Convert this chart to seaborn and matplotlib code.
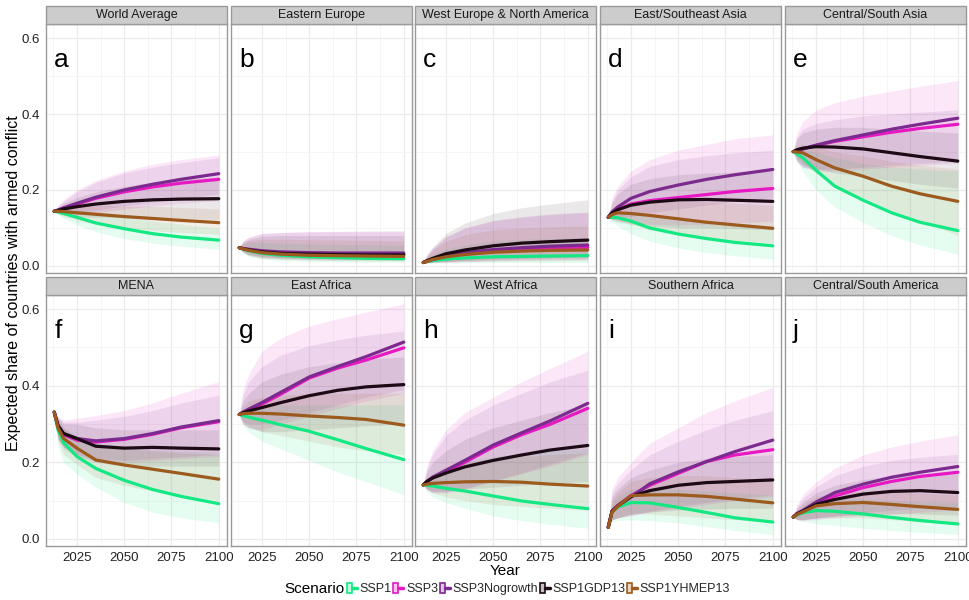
import matplotlib
matplotlib.use("Agg")
import matplotlib.pyplot as plt
import matplotlib.colors as mcolors
from matplotlib.patches import Rectangle, Patch
from matplotlib.lines import Line2D
from matplotlib.legend_handler import HandlerTuple
import numpy as np
import pandas as pd
import seaborn as sns

# ---------------- data ----------------
years = [2013, 2015, 2018, 2025, 2035, 2050, 2065, 2080, 2100]
scenarios = ["SSP1", "SSP3", "SSP3Nogrowth", "SSP1GDP13", "SSP1YHMEP13"]
colors = ["#14E882", "#E619C3", "#7B2A8E", "#1C0A14", "#9C5A1E"]
regions = ["World Average", "Eastern Europe", "West Europe & North America",
           "East/Southeast Asia", "Central/South Asia", "MENA", "East Africa",
           "West Africa", "Southern Africa", "Central/South America"]
letters = ["a", "b", "c", "d", "e", "f", "g", "h", "i", "j"]
x_ticks = [2025, 2050, 2075, 2100]
y_ticks = [0.0, 0.2, 0.4, 0.6]

# order of rows in each block: SSP1, SSP3, SSP3Nogrowth, SSP1GDP13, SSP1YHMEP13
world_mean = [[0.144,0.142,0.138,0.128,0.113,0.098,0.085,0.076,0.068],
              [0.144,0.147,0.152,0.163,0.178,0.195,0.208,0.218,0.228],
              [0.144,0.147,0.153,0.165,0.181,0.200,0.215,0.228,0.243],
              [0.144,0.146,0.150,0.156,0.163,0.170,0.174,0.176,0.177],
              [0.144,0.144,0.143,0.140,0.136,0.130,0.125,0.120,0.114]]
world_lo = [[0.144,0.135,0.125,0.108,0.090,0.072,0.060,0.052,0.044],
            [0.144,0.140,0.135,0.135,0.140,0.150,0.158,0.165,0.172],
            [0.144,0.141,0.140,0.140,0.147,0.158,0.168,0.176,0.190],
            [0.144,0.139,0.135,0.130,0.128,0.127,0.127,0.125,0.122],
            [0.144,0.137,0.130,0.120,0.110,0.100,0.093,0.088,0.083]]
world_hi = [[0.144,0.147,0.150,0.148,0.140,0.128,0.118,0.110,0.100],
            [0.144,0.160,0.175,0.200,0.225,0.250,0.268,0.280,0.292],
            [0.144,0.158,0.170,0.195,0.220,0.245,0.260,0.272,0.285],
            [0.144,0.155,0.165,0.180,0.195,0.210,0.220,0.228,0.235],
            [0.144,0.150,0.155,0.160,0.160,0.158,0.157,0.154,0.150]]

eeur_mean = [[0.048,0.045,0.040,0.033,0.028,0.024,0.022,0.020,0.019],
             [0.048,0.046,0.043,0.038,0.035,0.033,0.032,0.031,0.031],
             [0.048,0.046,0.044,0.040,0.037,0.035,0.034,0.034,0.034],
             [0.048,0.045,0.042,0.037,0.033,0.031,0.030,0.029,0.029],
             [0.048,0.045,0.041,0.035,0.031,0.028,0.027,0.026,0.025]]
eeur_lo = [[0.048,0.035,0.025,0.018,0.014,0.012,0.011,0.010,0.010],
           [0.048,0.037,0.030,0.024,0.021,0.019,0.018,0.018,0.018],
           [0.048,0.038,0.031,0.025,0.022,0.020,0.019,0.019,0.019],
           [0.048,0.036,0.028,0.022,0.019,0.017,0.016,0.016,0.016],
           [0.048,0.036,0.027,0.020,0.017,0.015,0.014,0.013,0.013]]
eeur_hi = [[0.048,0.058,0.062,0.062,0.060,0.058,0.057,0.056,0.055],
           [0.048,0.065,0.075,0.085,0.088,0.090,0.090,0.090,0.090],
           [0.048,0.066,0.076,0.085,0.088,0.090,0.091,0.092,0.093],
           [0.048,0.062,0.070,0.078,0.080,0.080,0.080,0.080,0.080],
           [0.048,0.060,0.066,0.070,0.070,0.069,0.068,0.067,0.066]]

wena_mean = [[0.009,0.011,0.014,0.018,0.021,0.024,0.025,0.026,0.027],
             [0.009,0.012,0.017,0.025,0.032,0.039,0.043,0.046,0.049],
             [0.009,0.013,0.018,0.027,0.035,0.043,0.048,0.052,0.055],
             [0.009,0.014,0.020,0.032,0.042,0.053,0.060,0.064,0.068],
             [0.009,0.012,0.017,0.024,0.030,0.036,0.039,0.041,0.042]]
wena_lo = [[0.009,0.008,0.008,0.008,0.008,0.009,0.009,0.009,0.009],
           [0.009,0.009,0.009,0.010,0.012,0.014,0.015,0.016,0.017],
           [0.009,0.009,0.010,0.011,0.013,0.015,0.017,0.018,0.019],
           [0.009,0.009,0.010,0.012,0.015,0.018,0.020,0.022,0.024],
           [0.009,0.008,0.009,0.010,0.011,0.012,0.013,0.013,0.014]]
wena_hi = [[0.009,0.020,0.030,0.045,0.055,0.065,0.070,0.072,0.075],
           [0.009,0.028,0.045,0.075,0.100,0.118,0.128,0.135,0.141],
           [0.009,0.027,0.046,0.077,0.100,0.120,0.130,0.137,0.142],
           [0.009,0.030,0.050,0.085,0.113,0.138,0.153,0.163,0.174],
           [0.009,0.024,0.040,0.065,0.082,0.095,0.100,0.103,0.105]]

esea_mean = [[0.128,0.128,0.127,0.118,0.100,0.084,0.072,0.062,0.053],
             [0.128,0.138,0.148,0.163,0.172,0.180,0.188,0.196,0.204],
             [0.128,0.142,0.155,0.178,0.196,0.213,0.228,0.240,0.254],
             [0.128,0.139,0.148,0.160,0.168,0.174,0.175,0.173,0.170],
             [0.128,0.135,0.140,0.138,0.133,0.124,0.115,0.108,0.099]]
esea_lo = [[0.128,0.115,0.105,0.085,0.065,0.048,0.035,0.027,0.018],
           [0.128,0.123,0.120,0.115,0.110,0.108,0.110,0.113,0.118],
           [0.128,0.126,0.125,0.130,0.140,0.150,0.160,0.170,0.180],
           [0.128,0.120,0.115,0.110,0.105,0.100,0.100,0.098,0.095],
           [0.128,0.123,0.120,0.110,0.095,0.085,0.075,0.068,0.060]]
esea_hi = [[0.128,0.136,0.140,0.140,0.135,0.125,0.115,0.110,0.105],
           [0.128,0.180,0.210,0.250,0.280,0.305,0.320,0.335,0.345],
           [0.128,0.170,0.200,0.235,0.262,0.280,0.290,0.298,0.305],
           [0.128,0.165,0.190,0.215,0.230,0.240,0.245,0.247,0.250],
           [0.128,0.148,0.160,0.170,0.172,0.170,0.168,0.165,0.160]]

csas_mean = [[0.301,0.295,0.285,0.252,0.210,0.173,0.140,0.115,0.093],
             [0.301,0.304,0.308,0.317,0.328,0.340,0.352,0.362,0.373],
             [0.301,0.304,0.308,0.318,0.330,0.345,0.360,0.373,0.389],
             [0.301,0.306,0.310,0.314,0.313,0.308,0.298,0.288,0.276],
             [0.301,0.300,0.298,0.280,0.258,0.236,0.210,0.190,0.170]]
csas_lo = [[0.301,0.275,0.250,0.200,0.155,0.115,0.080,0.055,0.031],
           [0.301,0.275,0.260,0.250,0.250,0.255,0.260,0.265,0.270],
           [0.301,0.278,0.265,0.255,0.255,0.260,0.265,0.270,0.275],
           [0.301,0.275,0.260,0.255,0.245,0.235,0.225,0.215,0.205],
           [0.301,0.285,0.270,0.245,0.210,0.180,0.145,0.120,0.080]]
csas_hi = [[0.301,0.308,0.310,0.300,0.285,0.270,0.260,0.255,0.250],
           [0.301,0.350,0.380,0.410,0.430,0.447,0.460,0.473,0.488],
           [0.301,0.340,0.360,0.375,0.385,0.395,0.400,0.405,0.411],
           [0.301,0.335,0.350,0.360,0.365,0.365,0.360,0.355,0.350],
           [0.301,0.315,0.320,0.315,0.300,0.290,0.275,0.265,0.255]]

mena_mean = [[0.331,0.285,0.251,0.215,0.184,0.153,0.129,0.111,0.092],
             [0.331,0.295,0.272,0.258,0.253,0.260,0.273,0.290,0.306],
             [0.331,0.297,0.275,0.262,0.256,0.262,0.275,0.292,0.309],
             [0.331,0.295,0.275,0.262,0.242,0.237,0.239,0.237,0.235],
             [0.331,0.290,0.262,0.237,0.206,0.193,0.182,0.171,0.156]]
mena_lo = [[0.331,0.240,0.200,0.170,0.135,0.095,0.070,0.055,0.042],
           [0.331,0.260,0.235,0.215,0.205,0.200,0.205,0.210,0.215],
           [0.331,0.262,0.240,0.220,0.210,0.205,0.210,0.215,0.220],
           [0.331,0.260,0.240,0.215,0.200,0.190,0.190,0.190,0.190],
           [0.331,0.255,0.220,0.195,0.160,0.140,0.125,0.115,0.100]]
mena_hi = [[0.331,0.310,0.290,0.270,0.255,0.240,0.232,0.228,0.225],
           [0.331,0.320,0.310,0.315,0.322,0.335,0.355,0.380,0.411],
           [0.331,0.318,0.305,0.305,0.310,0.320,0.335,0.355,0.375],
           [0.331,0.315,0.300,0.300,0.290,0.285,0.285,0.285,0.285],
           [0.331,0.312,0.290,0.265,0.240,0.235,0.230,0.225,0.220]]

eafr_mean = [[0.325,0.322,0.318,0.310,0.298,0.281,0.259,0.236,0.207],
             [0.325,0.330,0.337,0.352,0.378,0.420,0.446,0.467,0.499],
             [0.325,0.331,0.339,0.356,0.383,0.423,0.450,0.476,0.514],
             [0.325,0.329,0.334,0.343,0.356,0.374,0.388,0.397,0.403],
             [0.325,0.327,0.328,0.328,0.326,0.321,0.317,0.312,0.297]]
eafr_lo = [[0.325,0.295,0.280,0.255,0.235,0.205,0.175,0.150,0.115],
           [0.325,0.300,0.290,0.285,0.300,0.320,0.340,0.360,0.380],
           [0.325,0.305,0.300,0.300,0.310,0.330,0.350,0.370,0.390],
           [0.325,0.300,0.290,0.280,0.280,0.285,0.290,0.295,0.300],
           [0.325,0.305,0.295,0.280,0.270,0.255,0.240,0.230,0.220]]
eafr_hi = [[0.325,0.338,0.345,0.350,0.350,0.350,0.350,0.350,0.350],
           [0.325,0.390,0.430,0.490,0.525,0.556,0.575,0.592,0.614],
           [0.325,0.375,0.410,0.450,0.480,0.505,0.520,0.532,0.543],
           [0.325,0.360,0.380,0.410,0.430,0.450,0.460,0.470,0.475],
           [0.325,0.345,0.360,0.370,0.375,0.380,0.380,0.380,0.380]]

wafr_mean = [[0.141,0.140,0.138,0.132,0.125,0.112,0.099,0.090,0.079],
             [0.141,0.150,0.160,0.175,0.200,0.240,0.272,0.299,0.341],
             [0.141,0.150,0.161,0.179,0.205,0.245,0.277,0.308,0.354],
             [0.141,0.150,0.159,0.172,0.188,0.205,0.219,0.232,0.244],
             [0.141,0.143,0.145,0.147,0.149,0.150,0.148,0.143,0.138]]
wafr_lo = [[0.141,0.122,0.110,0.095,0.080,0.060,0.048,0.038,0.028],
           [0.141,0.128,0.120,0.120,0.130,0.150,0.170,0.190,0.220],
           [0.141,0.130,0.122,0.122,0.132,0.152,0.172,0.195,0.225],
           [0.141,0.130,0.125,0.125,0.130,0.135,0.140,0.145,0.150],
           [0.141,0.128,0.120,0.110,0.100,0.090,0.085,0.080,0.075]]
wafr_hi = [[0.141,0.158,0.170,0.185,0.200,0.215,0.225,0.230,0.235],
           [0.141,0.190,0.230,0.285,0.330,0.370,0.410,0.445,0.490],
           [0.141,0.185,0.220,0.270,0.310,0.350,0.380,0.410,0.441],
           [0.141,0.175,0.200,0.230,0.260,0.290,0.310,0.330,0.350],
           [0.141,0.158,0.170,0.190,0.200,0.210,0.215,0.220,0.225]]

safr_mean = [[0.030,0.070,0.083,0.095,0.094,0.082,0.069,0.055,0.044],
             [0.030,0.072,0.087,0.113,0.140,0.171,0.202,0.219,0.233],
             [0.030,0.072,0.086,0.109,0.144,0.175,0.202,0.228,0.258],
             [0.030,0.072,0.086,0.111,0.126,0.140,0.147,0.150,0.154],
             [0.030,0.070,0.085,0.113,0.115,0.115,0.111,0.104,0.094]]
safr_lo = [[0.030,0.045,0.048,0.050,0.048,0.042,0.032,0.022,0.011],
           [0.030,0.050,0.055,0.060,0.070,0.080,0.090,0.100,0.110],
           [0.030,0.050,0.055,0.062,0.072,0.085,0.095,0.105,0.115],
           [0.030,0.050,0.055,0.065,0.070,0.075,0.078,0.080,0.080],
           [0.030,0.050,0.055,0.065,0.065,0.060,0.055,0.050,0.045]]
safr_hi = [[0.030,0.090,0.110,0.130,0.135,0.130,0.125,0.120,0.115],
           [0.030,0.130,0.160,0.200,0.250,0.290,0.330,0.360,0.396],
           [0.030,0.120,0.145,0.180,0.220,0.255,0.285,0.310,0.335],
           [0.030,0.110,0.130,0.160,0.180,0.200,0.210,0.215,0.220],
           [0.030,0.100,0.120,0.150,0.160,0.165,0.165,0.160,0.155]]

csam_mean = [[0.057,0.062,0.068,0.074,0.072,0.065,0.056,0.048,0.039],
             [0.057,0.066,0.073,0.092,0.112,0.134,0.150,0.163,0.174],
             [0.057,0.066,0.074,0.096,0.121,0.143,0.161,0.174,0.189],
             [0.057,0.065,0.072,0.090,0.103,0.117,0.124,0.126,0.121],
             [0.057,0.064,0.070,0.086,0.092,0.095,0.090,0.084,0.077]]
csam_lo = [[0.057,0.050,0.045,0.040,0.035,0.028,0.022,0.017,0.012],
           [0.057,0.050,0.048,0.050,0.055,0.060,0.065,0.070,0.075],
           [0.057,0.051,0.050,0.053,0.060,0.068,0.075,0.080,0.085],
           [0.057,0.050,0.050,0.055,0.060,0.063,0.065,0.065,0.062],
           [0.057,0.050,0.050,0.055,0.055,0.055,0.050,0.045,0.040]]
csam_hi = [[0.057,0.070,0.085,0.100,0.105,0.105,0.100,0.097,0.095],
           [0.057,0.090,0.115,0.148,0.185,0.219,0.240,0.255,0.272],
           [0.057,0.085,0.105,0.135,0.165,0.190,0.205,0.213,0.221],
           [0.057,0.080,0.095,0.120,0.140,0.155,0.165,0.170,0.170],
           [0.057,0.075,0.090,0.110,0.120,0.125,0.122,0.120,0.115]]

# ---------------- build tables ----------------
blocks = [(world_mean, world_lo, world_hi), (eeur_mean, eeur_lo, eeur_hi),
          (wena_mean, wena_lo, wena_hi), (esea_mean, esea_lo, esea_hi),
          (csas_mean, csas_lo, csas_hi), (mena_mean, mena_lo, mena_hi),
          (eafr_mean, eafr_lo, eafr_hi), (wafr_mean, wafr_lo, wafr_hi),
          (safr_mean, safr_lo, safr_hi), (csam_mean, csam_lo, csam_hi)]
rows = []
for reg, (m, lo, hi) in zip(regions, blocks):
    for s_i, s in enumerate(scenarios):
        for y_i, yr in enumerate(years):
            rows.append({"Region": reg, "Scenario": s, "Year": yr,
                         "Share": m[s_i][y_i], "Lo": lo[s_i][y_i], "Hi": hi[s_i][y_i]})
df = pd.DataFrame(rows)

# ---------------- figure ----------------
sns.set_theme(style="white")
plt.rcParams["font.family"] = ["Liberation Sans", "DejaVu Sans"]

W, H = 970, 600
fig = plt.figure(figsize=(9.7, 6.0), dpi=100)
lefts = [46, 231, 415, 600, 785]
pw = 181
row_tb = [(24, 273), (295, 546)]
strip_h = 18
palette = dict(zip(scenarios, colors))
rib_alpha = {"SSP1": 0.11, "SSP3": 0.10, "SSP3Nogrowth": 0.10,
             "SSP1GDP13": 0.09, "SSP1YHMEP13": 0.10}

for i, reg in enumerate(regions):
    r, c = divmod(i, 5)
    top, bot = row_tb[r]
    ax = fig.add_axes([lefts[c] / W, 1 - bot / H, pw / W, (bot - top) / H])
    sub = df[df["Region"] == reg]
    for s in scenarios:
        ss = sub[sub["Scenario"] == s]
        ax.fill_between(ss["Year"], ss["Lo"], ss["Hi"], color=palette[s],
                        alpha=rib_alpha[s], linewidth=0, zorder=1)
    sns.lineplot(data=sub, x="Year", y="Share", hue="Scenario",
                 hue_order=scenarios, palette=palette, linewidth=2.3,
                 legend=False, ax=ax, zorder=3)
    ax.set_xlim(2008.65, 2104.35)
    ax.set_ylim(-0.0186, 0.637)
    ax.set_xticks(x_ticks)
    ax.set_yticks(y_ticks)
    ax.set_xticks([2012.5, 2037.5, 2062.5, 2087.5], minor=True)
    ax.set_yticks([0.1, 0.3, 0.5], minor=True)
    ax.grid(True, which="major", color="#EBEBEB", linewidth=0.9, zorder=0)
    ax.grid(True, which="minor", color="#F4F4F4", linewidth=0.6, zorder=0)
    ax.set_axisbelow(True)
    for sp in ax.spines.values():
        sp.set_color("#9A9A9A")
        sp.set_linewidth(1.0)
    ax.set_xlabel("")
    ax.set_ylabel("")
    ax.tick_params(axis="both", which="minor", length=0)
    ax.tick_params(axis="both", which="major", length=3, width=0.8,
                   color="#555555", labelsize=9.5, labelcolor="#222222", pad=1.5)
    if c != 0:
        ax.tick_params(axis="y", which="major", left=False, labelleft=False)
    else:
        ax.set_yticklabels(["0.0", "0.2", "0.4", "0.6"])
    if r == 0:
        ax.tick_params(axis="x", which="major", bottom=False, labelbottom=False)
    # strip
    sh = strip_h / (bot - top)
    ax.add_patch(Rectangle((0, 1.0), 1, sh, transform=ax.transAxes,
                           facecolor="#CCCCCC", edgecolor="#9A9A9A",
                           linewidth=1.0, clip_on=False, zorder=5))
    ax.text(0.5, 1.0 + sh / 2, reg, transform=ax.transAxes, ha="center",
            va="center", fontsize=9, color="#1A1A1A", zorder=6)
    ax.text(0.045, 0.855, letters[i], transform=ax.transAxes, ha="left",
            va="center", fontsize=19, color="black", zorder=6)

fig.text(14 / W, 1 - 283 / H, "Expected share of countries with armed conflict",
         rotation=90, ha="center", va="center", fontsize=11.5, color="black")
fig.text(505 / W, 1 - 571 / H, "Year", ha="center", va="center",
         fontsize=11, color="black")
fig.text(284 / W, 1 - 589 / H, "Scenario", ha="left", va="center",
         fontsize=11, color="black")

handles = []
for col in colors:
    handles.append((Patch(facecolor=mcolors.to_rgba(col, 0.25), edgecolor=col, linewidth=1.2),
                    Line2D([], [], color=col, linewidth=2.5)))
fig.legend(handles, scenarios, handler_map={tuple: HandlerTuple(ndivide=None, pad=0)},
           loc="center left", bbox_to_anchor=(347 / W, 1 - 589 / H), ncol=5,
           frameon=False, fontsize=9, handlelength=0.8, handleheight=0.9,
           handletextpad=0.2, columnspacing=0.15, borderaxespad=0, borderpad=0)

fig.savefig("out.png", dpi=100)
